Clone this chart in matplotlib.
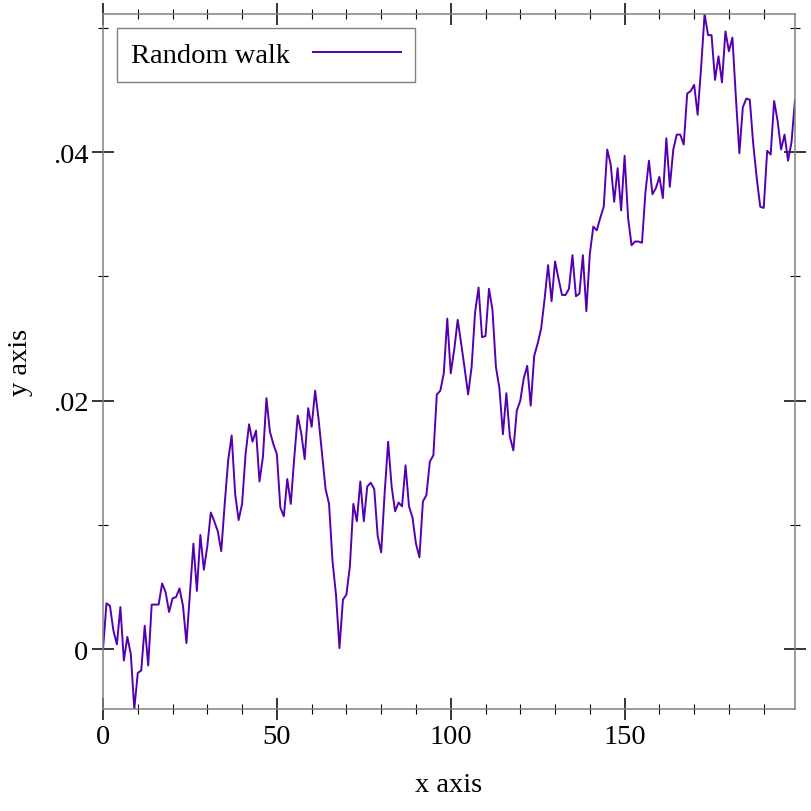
import numpy as np
import matplotlib.pyplot as plt
from matplotlib.ticker import FixedLocator, MultipleLocator

# random walk values (x = 0..199)
walk = [
    0.0000, 0.0037, 0.0035, 0.0015, 0.0004, 0.0034, -0.0009, 0.0010, -0.0004, -0.0048,
    -0.0019, -0.0017, 0.0019, -0.0013, 0.0036, 0.0036, 0.0036, 0.0053, 0.0046, 0.0030,
    0.0041, 0.0042, 0.0049, 0.0035, 0.0005, 0.0045, 0.0085, 0.0047, 0.0092, 0.0064,
    0.0083, 0.0110, 0.0103, 0.0095, 0.0079, 0.0117, 0.0152, 0.0172, 0.0125, 0.0104,
    0.0117, 0.0157, 0.0181, 0.0167, 0.0176, 0.0135, 0.0155, 0.0202, 0.0175, 0.0165,
    0.0157, 0.0114, 0.0107, 0.0137, 0.0117, 0.0154, 0.0188, 0.0174, 0.0153, 0.0194,
    0.0179, 0.0208, 0.0185, 0.0157, 0.0129, 0.0117, 0.0071, 0.0044, 0.0001, 0.0040,
    0.0044, 0.0067, 0.0117, 0.0103, 0.0135, 0.0103, 0.0131, 0.0134, 0.0129, 0.0091,
    0.0078, 0.0126, 0.0167, 0.0131, 0.0111, 0.0118, 0.0115, 0.0148, 0.0115, 0.0106,
    0.0085, 0.0074, 0.0119, 0.0124, 0.0151, 0.0156, 0.0205, 0.0208, 0.0222, 0.0266,
    0.0222, 0.0241, 0.0265, 0.0246, 0.0226, 0.0205, 0.0227, 0.0271, 0.0291, 0.0251,
    0.0252, 0.0290, 0.0273, 0.0227, 0.0210, 0.0173, 0.0206, 0.0171, 0.0160, 0.0192,
    0.0200, 0.0218, 0.0228, 0.0196, 0.0236, 0.0246, 0.0258, 0.0282, 0.0309, 0.0280,
    0.0312, 0.0298, 0.0285, 0.0285, 0.0290, 0.0317, 0.0284, 0.0286, 0.0317, 0.0272,
    0.0318, 0.0340, 0.0337, 0.0347, 0.0356, 0.0402, 0.0390, 0.0360, 0.0387, 0.0353,
    0.0397, 0.0347, 0.0325, 0.0328, 0.0328, 0.0327, 0.0368, 0.0393, 0.0366, 0.0371,
    0.0380, 0.0363, 0.0411, 0.0372, 0.0402, 0.0414, 0.0414, 0.0406, 0.0447, 0.0449,
    0.0454, 0.0430, 0.0468, 0.0511, 0.0494, 0.0494, 0.0458, 0.0477, 0.0456, 0.0497,
    0.0481, 0.0492, 0.0444, 0.0399, 0.0436, 0.0443, 0.0442, 0.0406, 0.0379, 0.0356,
    0.0355, 0.0401, 0.0398, 0.0441, 0.0425, 0.0402, 0.0414, 0.0393, 0.0408, 0.0442,
]
steps = np.arange(len(walk))

x_major = [0, 50, 100, 150]
x_labels = ["0", "50", "100", "150"]
y_major = [0.0, 0.02, 0.04]
y_labels = ["0", ".02", ".04"]

plt.rcParams['font.family'] = ['Liberation Serif', 'DejaVu Serif']
fs = 20.5

fig = plt.figure(figsize=(8.12, 8.12), dpi=100)
ax = fig.add_axes([103 / 812, 1 - 710 / 812, (795 - 103) / 812, (710 - 15) / 812])

ax.plot(steps, walk, color='#5500b0', lw=1.4, label="Random walk")

ax.set_xlim(0, len(walk) - 1)
ax.set_ylim(min(walk), max(walk))

ax.xaxis.set_major_locator(FixedLocator(x_major))
ax.set_xticklabels(x_labels)
ax.xaxis.set_minor_locator(MultipleLocator(10))
ax.yaxis.set_major_locator(FixedLocator(y_major))
ax.set_yticklabels(y_labels)
ax.yaxis.set_minor_locator(MultipleLocator(0.01))

ax.tick_params(which='both', direction='inout', top=True, right=True,
               labelsize=fs, color='black')
ax.tick_params(which='major', length=16, width=1.1, pad=2.5)
ax.tick_params(which='minor', length=7.5, width=0.8)
for s in ax.spines.values():
    s.set_color('#808080')
    s.set_linewidth(1.1)

ax.set_xlabel("x axis", fontsize=fs, labelpad=17)
ax.set_ylabel("y axis", fontsize=fs, labelpad=14)

leg = ax.legend(loc='upper left', fontsize=fs, markerfirst=False, handlelength=3.1,
                handletextpad=0.8, borderaxespad=0.48, borderpad=0.5,
                fancybox=False, framealpha=1)
leg.get_frame().set_edgecolor('#808080')
leg.get_frame().set_linewidth(1.0)

fig.savefig("out.png", dpi=100)
